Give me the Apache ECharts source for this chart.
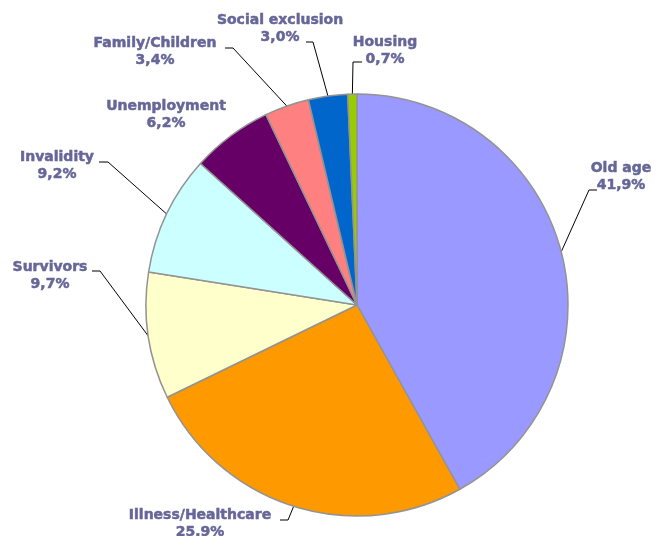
<!DOCTYPE html>
<html>
<head>
<meta charset="utf-8">
<script src="https://cdn.jsdelivr.net/npm/echarts@6/dist/echarts.min.js"></script>
<style>
html,body{margin:0;padding:0;background:#fff;}
#chart{width:659px;height:536px;}
</style>
</head>
<body>
<div id="chart"></div>
<script>
const categories = ['Old age', 'Illness/Healthcare', 'Survivors', 'Invalidity', 'Unemployment', 'Family/Children', 'Social exclusion', 'Housing'];
const values = [41.9, 25.9, 9.7, 9.2, 6.2, 3.4, 3.0, 0.7];
const colors = ['#9999FF', '#FF9900', '#FFFFCC', '#CCFFFF', '#660066', '#FF8080', '#0066CC', '#99CC00'];

// label placement: [text centre x, text top y, elbow x, elbow y, end x, end y] (null = no leader)
const labelSpots = [
  [621, 160, 589, 190, 597, 190],
  [200, 507, 288, 520, 280, 520],
  [50, 259, 100, 271, 92, 271],
  [57, 149, 108, 162, 99, 162],
  [166, 98, null, null, null, null],
  [155, 35, 233, 48, 225, 48],
  [280, 12, 313, 42, 306, 42],
  [385, 34, 353, 62, 362, 62]
];

const chart = echarts.init(document.getElementById('chart'), null, {renderer: 'canvas'});
const data = categories.map((c, i) => ({
  name: c,
  value: values[i],
  itemStyle: {color: colors[i]},
  labelLine: {show: labelSpots[i][2] !== null}
}));

chart.setOption({
  animation: false,
  series: [{
    type: 'pie',
    center: [357, 305],
    radius: [0, 211],
    startAngle: 90,
    clockwise: true,
    avoidLabelOverlap: false,
    data: data,
    itemStyle: {borderColor: '#939393', borderWidth: 1.5},
    emphasis: {disabled: true},
    label: {
      show: true,
      position: 'outside',
      formatter: p => p.name + '\n' + p.value.toFixed(1).replace('.', ',') + '%',
      fontFamily: 'DejaVu Sans, Verdana, sans-serif',
      fontWeight: 'bold',
      fontSize: 14,
      lineHeight: 17,
      color: '#666699',
      textBorderColor: '#666699',
      textBorderWidth: 0.5,
      align: 'center'
    },
    labelLine: {
      show: true,
      length: 20,
      length2: 8,
      smooth: false,
      lineStyle: {color: '#000000', width: 1}
    },
    labelLayout: function (params) {
      const s = labelSpots[params.dataIndex];
      const out = {x: s[0], y: s[1], align: 'center', verticalAlign: 'top'};
      if (s[2] !== null && params.labelLinePoints) {
        const edge = params.labelLinePoints[0];
        out.labelLinePoints = [[edge[0], edge[1]], [s[2], s[3]], [s[4], s[5]]];
      }
      return out;
    }
  }]
});
</script>
</body>
</html>
